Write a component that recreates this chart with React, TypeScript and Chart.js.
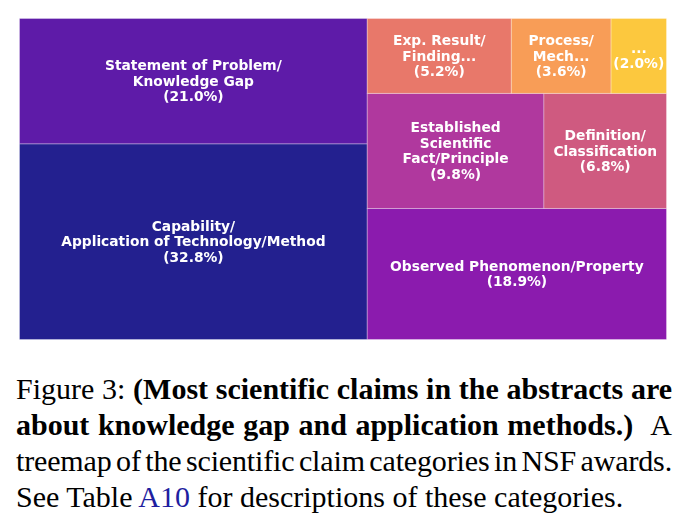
import React, { useEffect, useRef } from "react";
import { Chart, registerables } from "chart.js";

Chart.register(...registerables);

// ---- data ----
const categoryLabels: string[][] = [
  ["Capability/", "Application of Technology/Method"],
  ["Statement of Problem/", "Knowledge Gap"],
  ["Observed Phenomenon/Property"],
  ["Established", "Scientific", "Fact/Principle"],
  ["Definition/", "Classification"],
  ["Exp. Result/", "Finding..."],
  ["Process/", "Mech..."],
  ["..."],
];
const shares: number[] = [32.8, 21.0, 18.9, 9.8, 6.8, 5.2, 3.6, 2.0];
const cellColors: string[] = [
  "#23208f",
  "#5e1ba8",
  "#8b1bae",
  "#b0389e",
  "#cf5a80",
  "#e8786a",
  "#f89d57",
  "#fcc83e",
];

// ---- squarify (same algorithm as python squarify) ----
type Rect = { x: number; y: number; dx: number; dy: number };
const sum = (a: number[]) => a.reduce((s, v) => s + v, 0);
function layoutRow(sizes: number[], x: number, y: number, dx: number, dy: number): Rect[] {
  const width = sum(sizes) / dy;
  const out: Rect[] = [];
  for (const s of sizes) {
    out.push({ x, y, dx: width, dy: s / width });
    y += s / width;
  }
  return out;
}
function layoutCol(sizes: number[], x: number, y: number, dx: number, dy: number): Rect[] {
  const height = sum(sizes) / dx;
  const out: Rect[] = [];
  for (const s of sizes) {
    out.push({ x, y, dx: s / height, dy: height });
    x += s / height;
  }
  return out;
}
const layout = (s: number[], x: number, y: number, dx: number, dy: number) =>
  dx >= dy ? layoutRow(s, x, y, dx, dy) : layoutCol(s, x, y, dx, dy);
function leftover(s: number[], x: number, y: number, dx: number, dy: number): [number, number, number, number] {
  if (dx >= dy) {
    const w = sum(s) / dy;
    return [x + w, y, dx - w, dy];
  }
  const h = sum(s) / dx;
  return [x, y + h, dx, dy - h];
}
const worst = (s: number[], x: number, y: number, dx: number, dy: number) =>
  Math.max(...layout(s, x, y, dx, dy).map((r) => Math.max(r.dx / r.dy, r.dy / r.dx)));
function squarify(sizes: number[], x: number, y: number, dx: number, dy: number): Rect[] {
  if (sizes.length === 0) return [];
  if (sizes.length === 1) return layout(sizes, x, y, dx, dy);
  let i = 1;
  while (i < sizes.length && worst(sizes.slice(0, i), x, y, dx, dy) >= worst(sizes.slice(0, i + 1), x, y, dx, dy)) i++;
  const cur = sizes.slice(0, i);
  const rest = sizes.slice(i);
  const [lx, ly, ldx, ldy] = leftover(cur, x, y, dx, dy);
  return layout(cur, x, y, dx, dy).concat(squarify(rest, lx, ly, ldx, ldy));
}
function normalize(sizes: number[], dx: number, dy: number) {
  const t = sum(sizes);
  return sizes.map((s) => (s * dx * dy) / t);
}

const NORM = 100;
const rects = squarify(normalize(shares, NORM, NORM), 0, 0, NORM, NORM);

const treemapPlugin = {
  id: "treemapCells",
  afterDatasetsDraw(chart: any) {
    const { ctx } = chart;
    const xs = chart.scales.x;
    const ys = chart.scales.y;
    ctx.save();
    rects.forEach((r, i) => {
      const x0 = xs.getPixelForValue(r.x);
      const x1 = xs.getPixelForValue(r.x + r.dx);
      const y0 = ys.getPixelForValue(r.y + r.dy);
      const y1 = ys.getPixelForValue(r.y);
      ctx.fillStyle = cellColors[i];
      ctx.fillRect(x0, y0, x1 - x0, y1 - y0);
      ctx.strokeStyle = "rgba(255,255,255,0.3)";
      ctx.lineWidth = 1;
      ctx.strokeRect(x0, y0, x1 - x0, y1 - y0);
    });
    const fs = 13.8;
    const lh = 15.6;
    ctx.font = `bold ${fs}px "DejaVu Sans"`;
    ctx.fillStyle = "#ffffff";
    ctx.textAlign = "center";
    ctx.textBaseline = "alphabetic";
    rects.forEach((r, i) => {
      const cx = xs.getPixelForValue(r.x + r.dx / 2);
      const cy = ys.getPixelForValue(r.y + r.dy / 2);
      const lines = [...categoryLabels[i], `(${shares[i].toFixed(1)}%)`];
      const n = lines.length;
      lines.forEach((t, k) => {
        const by = cy - ((n - 1) * lh) / 2 + k * lh + fs * 0.34;
        ctx.fillText(t, cx, by);
      });
    });
    ctx.restore();
  },
};

function TreemapChart() {
  const ref = useRef<HTMLCanvasElement | null>(null);
  useEffect(() => {
    if (!ref.current) return;
    const chart = new Chart(ref.current, {
      type: "scatter",
      data: {
        datasets: [
          {
            label: "share",
            data: rects.map((r, i) => ({ x: r.x + r.dx / 2, y: r.y + r.dy / 2, v: shares[i] })) as any,
            pointRadius: 0,
            pointHoverRadius: 0,
          },
        ],
      },
      options: {
        animation: false,
        responsive: false,
        devicePixelRatio: 1,
        layout: { padding: { left: 19.5, right: 24.5, top: 18.5, bottom: 20.5 } },
        plugins: { legend: { display: false }, tooltip: { enabled: false } },
        scales: {
          x: { type: "linear", min: 0, max: NORM, display: false },
          y: { type: "linear", min: 0, max: NORM, display: false },
        },
      },
      plugins: [treemapPlugin],
    });
    return () => chart.destroy();
  }, []);
  return (
    <canvas
      ref={ref}
      width={691}
      height={360}
      style={{ position: "absolute", left: 0, top: 0, width: 691, height: 360 }}
    />
  );
}

const lineStyle: React.CSSProperties = {
  textAlign: "justify",
  textAlignLast: "justify" as any,
  height: 36,
};

export default function App() {
  return (
    <div style={{ position: "absolute", left: 0, top: 0, width: 691, height: 529, background: "#fff" }}>
      <TreemapChart />
      <div
        style={{
          position: "absolute",
          left: 16,
          top: 371,
          width: 656,
          fontFamily: '"Liberation Serif", "Times New Roman", serif',
          fontSize: 30,
          lineHeight: "36px",
          color: "#000",
        }}
      >
        <div style={lineStyle}>
          Figure 3: <b>(Most scientific claims in the abstracts are</b>
        </div>
        <div style={lineStyle}>
          <b>about knowledge gap and application methods.)</b>&nbsp;&nbsp;A
        </div>
        <div style={{ ...lineStyle, wordSpacing: "-4.5px", letterSpacing: "-0.15px" }}>
          treemap of the scientific claim categories in NSF awards.
        </div>
        <div style={{ height: 36 }}>
          See Table <span style={{ color: "#1f1fa0" }}>A10</span> for descriptions of these categories.
        </div>
      </div>
    </div>
  );
}
